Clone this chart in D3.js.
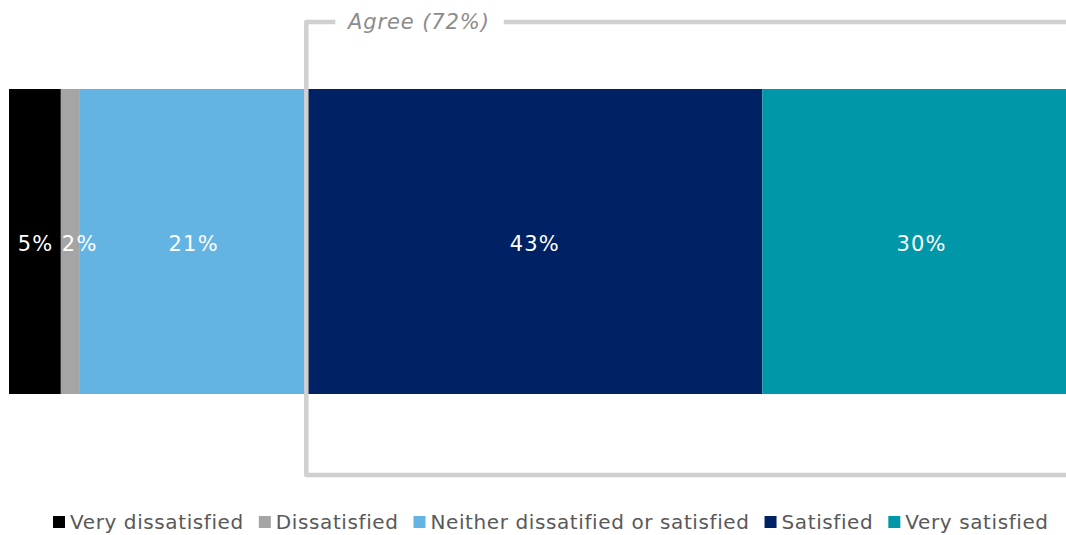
<!DOCTYPE html>
<html>
<head>
<meta charset="utf-8">
<script src="https://cdn.jsdelivr.net/npm/d3@7"></script>
<style>
  html, body { margin: 0; padding: 0; background: #fff; }
  svg { display: block; }
</style>
</head>
<body>
<svg id="chart" width="1066" height="535"></svg>
<script>
const categories = ["Very dissatisfied", "Dissatisfied", "Neither dissatified or satisfied", "Satisfied", "Very satisfied"];
const values = [4.9, 1.8, 21.4, 43.1, 30.0];
const labels = ["5%", "2%", "21%", "43%", "30%"];
const colors = ["#000000", "#a5a5a5", "#63b3e3", "#002163", "#0098a9"];
const bracketLabel = "Agree (72%)";
const bracketStart = 3; // category index where "Agree" begins

const svg = d3.select("#chart");
const W = 1066, H = 535;
const font = "Verdana, 'DejaVu Sans', sans-serif";

const x = d3.scaleLinear().domain([0, 100]).range([9, 1067]);
const y = d3.scaleBand().domain(["all"]).range([89, 394]).padding(0);

let cum = 0;
const segs = values.map((v, i) => {
  const s = { i, x0: cum, x1: cum + v, v, label: labels[i], color: colors[i], cat: categories[i] };
  cum += v;
  return s;
});

const g = svg.append("g");
g.selectAll("rect.seg").data(segs).join("rect")
  .attr("class", "seg")
  .attr("x", d => x(d.x0))
  .attr("y", y("all"))
  .attr("width", d => x(d.x1) - x(d.x0))
  .attr("height", y.bandwidth())
  .attr("fill", d => d.color);

const lbl = g.selectAll("text.lbl").data(segs).join("text")
  .attr("class", "lbl")
  .attr("y", y("all") + y.bandwidth() / 2 + 1.5)
  .attr("dy", "0.36em")
  .attr("fill", "#ffffff")
  .attr("font-family", font)
  .attr("font-size", 21)
  .attr("letter-spacing", 1.2)
  .attr("text-anchor", "start")
  .text(d => d.label);
lbl.each(function(d) {
  const w = this.getComputedTextLength() - 1.2;
  const c = (x(d.x0) + x(d.x1)) / 2;
  const cx = Math.max(c, x(d.x0) + 1 + w / 2);
  d3.select(this).attr("x", cx - w / 2);
});

// bracket
const bx0 = x(segs[bracketStart].x0);
const bx1 = W + 5;
const topY = 22, botY = 475;
const bracketColor = "#d0d0d0";
const bt = svg.append("text")
  .attr("x", 348)
  .attr("y", topY)
  .attr("dy", "0.35em")
  .attr("fill", "#8c8c8c")
  .attr("font-family", font)
  .attr("font-style", "italic")
  .attr("font-size", 21)
  .attr("letter-spacing", 0.9)
  .text(bracketLabel);
const tw = bt.node().getComputedTextLength();
const path = d3.path();
path.moveTo(bx0 + 29, topY);
path.lineTo(bx0, topY);
path.lineTo(bx0, botY);
path.lineTo(bx1, botY);
svg.append("path").attr("d", path.toString())
  .attr("fill", "none").attr("stroke", bracketColor).attr("stroke-width", 4.5)
  .attr("stroke-linejoin", "round");
svg.append("line")
  .attr("x1", 348 + tw + 14).attr("x2", bx1)
  .attr("y1", topY).attr("y2", topY)
  .attr("stroke", bracketColor).attr("stroke-width", 4.5);

// legend
const legend = svg.append("g");
let lx = 53;
const ly = 522;
categories.forEach((c, i) => {
  legend.append("rect")
    .attr("x", lx).attr("y", ly - 6).attr("width", 12).attr("height", 12)
    .attr("fill", colors[i]);
  const t = legend.append("text")
    .attr("x", lx + 17).attr("y", ly)
    .attr("dy", "0.35em")
    .attr("fill", "#595959")
    .attr("font-family", font)
    .attr("font-size", 20)
    .attr("letter-spacing", 0.6)
    .text(c);
  lx += 17 + t.node().getComputedTextLength() + 15;
});
</script>
</body>
</html>
